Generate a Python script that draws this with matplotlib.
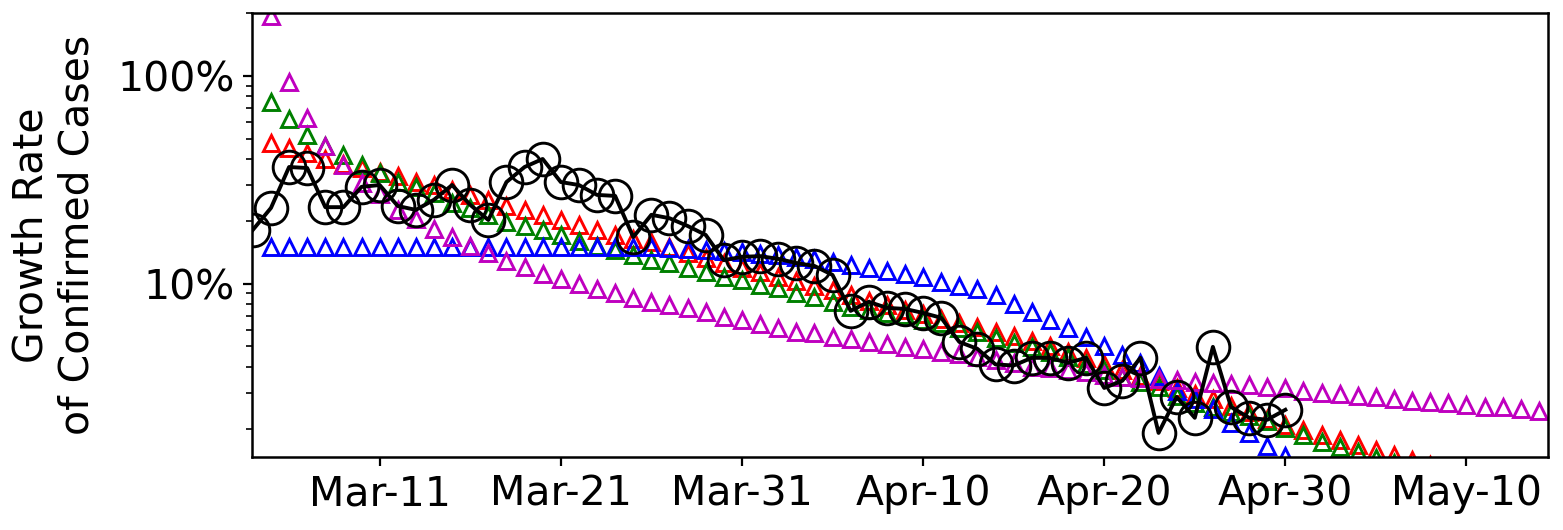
import datetime
import matplotlib
matplotlib.use("Agg")
import matplotlib.pyplot as plt
import matplotlib.dates as mdates
from matplotlib.ticker import FuncFormatter, LogLocator, NullFormatter

# ---------------- data (growth rate in %) ----------------
start_date = datetime.date(2020, 3, 4)

# observed daily growth rate, Mar 4 .. Apr 30
observed = [18.2, 23.2, 36.5, 36.1, 23.4, 23.4, 29.3, 29.9, 23.7, 22.7,
            25.4, 29.9, 24.0, 20.3, 30.9, 36.5, 39.9, 30.9, 29.9, 26.8,
            26.5, 16.8, 21.5, 20.7, 19.0, 17.2, 13.0, 13.5, 13.6, 13.2,
            12.6, 12.2, 11.05, 7.42, 8.2, 7.67, 7.58, 7.25, 6.87, 5.26,
            4.87, 4.1, 4.05, 4.41, 4.41, 4.17, 4.41, 3.16, 3.42, 4.41,
            1.92, 2.86, 2.27, 4.98, 2.56, 2.27, 2.22, 2.48]

# model curves, all starting Mar 5
model_red = [47.7, 45.1, 42.6, 39.9, 37.8, 36.0, 34.5, 33.0, 30.9, 29.9,
             28.3, 26.8, 25.4, 23.7, 22.6, 21.5, 20.3, 19.2, 18.2, 17.2,
             16.5, 15.9, 15.0, 14.1, 13.3, 12.6, 11.9, 11.4, 10.8, 10.3,
             9.8, 9.3, 8.8, 8.3, 7.9, 7.5, 7.15, 6.8, 6.5, 6.2,
             5.9, 5.6, 5.3, 5.0, 4.7, 4.4, 4.1, 3.85, 3.6, 3.4,
             3.15, 2.95, 2.78, 2.6, 2.42, 2.25, 2.1, 1.98, 1.88, 1.78,
             1.68, 1.59, 1.5, 1.42, 1.35]

model_green = [75.0, 62.1, 52.0, 46.0, 41.7, 37.3, 34.2, 30.9, 29.3, 27.4,
               24.5, 23.2, 21.5, 19.9, 19.0, 18.2, 17.2, 16.1, 15.2, 14.5,
               13.8, 13.0, 12.6, 11.9, 11.4, 10.8, 10.4, 9.9, 9.57, 9.05,
               8.66, 8.2, 7.75, 7.5, 7.25, 7.1, 6.71, 6.5, 6.14, 5.88,
               5.5, 5.22, 4.95, 4.7, 4.46, 4.1, 3.85, 3.58, 3.38, 3.2,
               2.9, 2.68, 2.56, 2.42, 2.32, 2.18, 2.03, 1.88, 1.74, 1.64,
               1.55, 1.45, 1.37]

model_blue = [15.1, 15.1, 15.1, 15.1, 15.1, 15.1, 15.1, 15.1, 15.1, 15.1,
              15.1, 15.1, 15.1, 15.1, 15.1, 15.1, 15.1, 15.1, 15.1, 15.1,
              15.0, 15.0, 14.9, 14.8, 14.6, 14.4, 14.2, 14.0, 13.8, 13.5,
              13.2, 12.8, 12.3, 11.9, 11.5, 11.2, 10.8, 10.2, 9.8, 9.4,
              8.85, 8.0, 7.33, 6.71, 6.14, 5.56, 5.03, 4.56, 4.17, 3.6,
              3.05, 2.8, 2.5, 2.15, 1.92, 1.66, 1.48]

model_magenta = [195.0, 93.5, 62.8, 46.1, 37.3, 30.6, 27.1, 22.7, 20.5, 18.4,
                 16.8, 15.2, 14.1, 12.9, 12.1, 11.2, 10.6, 10.0, 9.46, 9.05,
                 8.57, 8.2, 7.92, 7.67, 7.34, 6.94, 6.71, 6.42, 6.14, 5.9,
                 5.78, 5.58, 5.45, 5.28, 5.15, 4.99, 4.87, 4.72, 4.6, 4.47,
                 4.32, 4.15, 3.98, 3.92, 3.86, 3.75, 3.65, 3.58, 3.54, 3.5,
                 3.45, 3.38, 3.35, 3.3, 3.27, 3.2, 3.16, 3.06, 3.0, 2.96,
                 2.89, 2.86, 2.8, 2.74, 2.71, 2.68, 2.62, 2.56, 2.56, 2.51,
                 2.45]

tick_dates = ["2020-03-11", "2020-03-21", "2020-03-31", "2020-04-10",
              "2020-04-20", "2020-04-30", "2020-05-10"]


def dates_from(offset, n):
    return [start_date + datetime.timedelta(days=offset + i) for i in range(n)]


# ---------------- figure ----------------
plt.rcParams["font.family"] = "DejaVu Sans"
fig = plt.figure(figsize=(15.63, 5.30), dpi=100)
ax = fig.add_axes([0.1612, 0.1377, 0.8292, 0.8378])

tri = dict(linestyle="none", marker="^", markersize=12, markerfacecolor="none",
           markeredgewidth=2.1)
ax.plot(dates_from(1, len(model_red)), model_red, color="r", **tri)
ax.plot(dates_from(1, len(model_green)), model_green, color="g", **tri)
ax.plot(dates_from(1, len(model_blue)), model_blue, color="b", **tri)
ax.plot(dates_from(1, len(model_magenta)), model_magenta, color="m", **tri)
ax.plot(dates_from(0, len(observed)), observed, color="k", linewidth=2.8,
        marker="o", markersize=23.5, markerfacecolor="none",
        markeredgecolor="k", markeredgewidth=2.1)

ax.set_yscale("log")
ax.set_ylim(1.47, 201)
x0 = mdates.date2num(start_date)
ax.set_xlim(x0 - 0.05, x0 + 71.5)

ax.yaxis.set_major_locator(LogLocator(base=10))
ax.yaxis.set_minor_locator(LogLocator(base=10, subs=range(2, 10)))
ax.yaxis.set_major_formatter(FuncFormatter(lambda v, _: f"{v:.0f}%"))
ax.yaxis.set_minor_formatter(NullFormatter())

ax.set_xticks([mdates.date2num(datetime.date.fromisoformat(d)) for d in tick_dates])
ax.xaxis.set_major_formatter(mdates.DateFormatter("%b-%d"))

ax.tick_params(axis="both", which="major", labelsize=29.5, length=6.5, width=1.6,
               pad=6)
ax.tick_params(axis="y", which="minor", length=4, width=1.2)
for s in ax.spines.values():
    s.set_linewidth(1.8)

ax.set_ylabel("Growth Rate\nof Confirmed Cases", fontsize=29.5, labelpad=14)

fig.savefig("out.png", dpi=100)
